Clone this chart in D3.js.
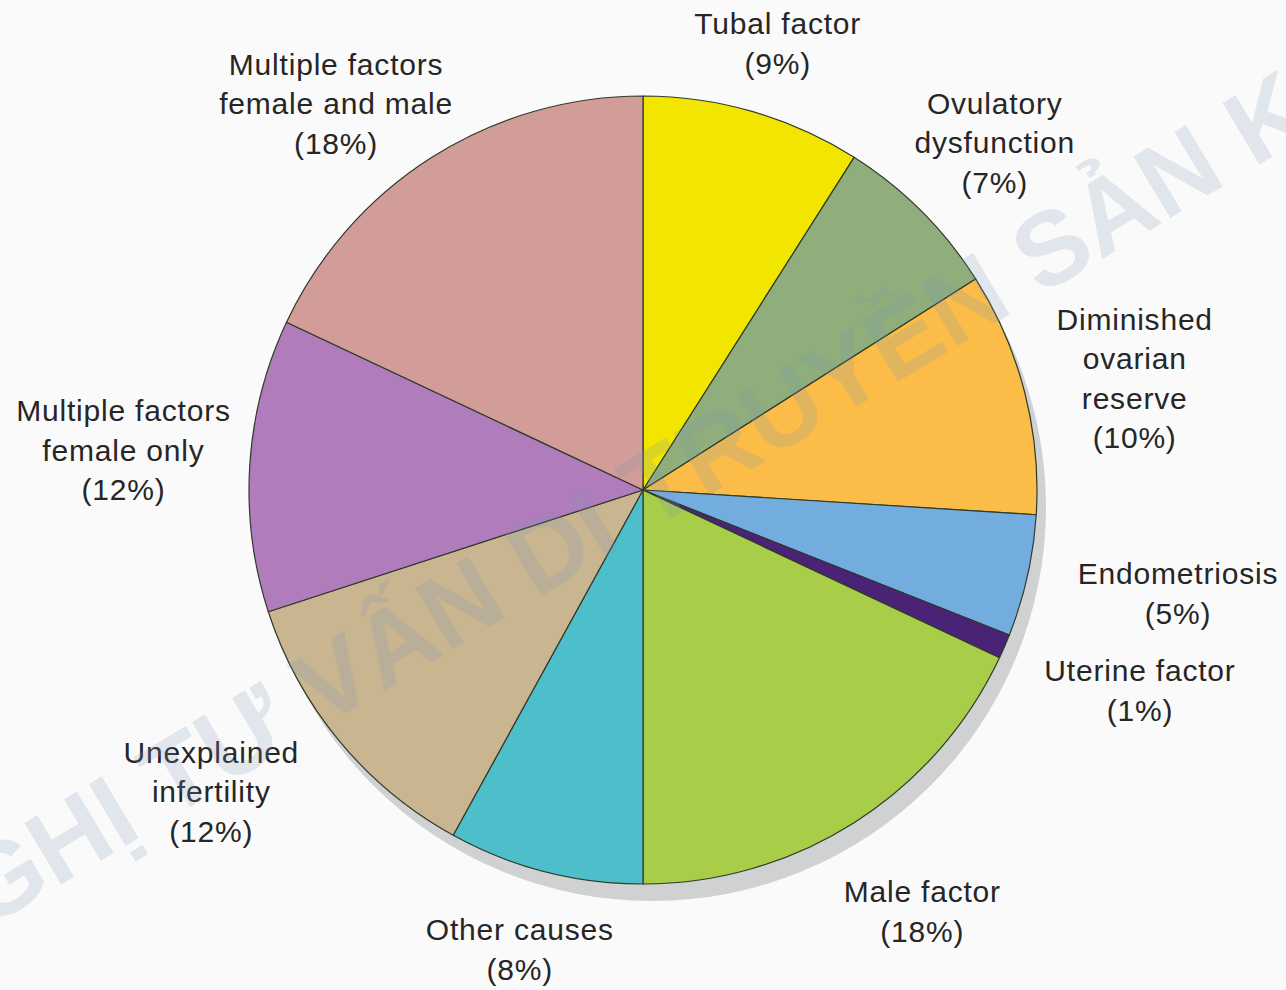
<!DOCTYPE html>
<html>
<head>
<meta charset="utf-8">
<script src="https://cdn.jsdelivr.net/npm/d3@7"></script>
<style>
  body { margin: 0; background: #fafafa; }
  svg { display: block; }
</style>
</head>
<body>
<svg id="chart" width="1286" height="990"></svg>
<script>
// causes of infertility, clockwise from 12 o'clock
var causes = [
  ["Tubal factor"],
  ["Ovulatory", "dysfunction"],
  ["Diminished", "ovarian", "reserve"],
  ["Endometriosis"],
  ["Uterine factor"],
  ["Male factor"],
  ["Other causes"],
  ["Unexplained", "infertility"],
  ["Multiple factors", "female only"],
  ["Multiple factors", "female and male"]
];
var percents = [9, 7, 10, 5, 1, 18, 8, 12, 12, 18];
var colors = ["#f2e500", "#8fae7b", "#fbbd48", "#73ade0", "#4a2376",
              "#a7cd49", "#4cbfcb", "#c9b58f", "#b07cbc", "#d29c98"];

// label placement: [angle nudge in degrees, distance from centre]
var labelLayout = [
  [0.6, 466], [0.4, 494], [1.7, 504], [-1.6, 545], [-1.4, 536],
  [-1.1, 506], [0.6, 476], [4.6, 527], [0.7, 521], [-6.1, 493]
];

var width = 1286, height = 990;
var cx = 643, cy = 490, radius = 394;
var lineGap = 39.5;

var svg = d3.select("#chart");

// drop shadow behind the pie
svg.append("circle")
  .attr("cx", cx + 9)
  .attr("cy", cy + 17)
  .attr("r", radius)
  .style("fill", "#cfd1d3");

var pie = d3.pie().sort(null).value(function(d){ return d; });
var arc = d3.arc().innerRadius(0).outerRadius(radius);
var slices = pie(percents);

var g = svg.append("g").attr("transform", "translate(" + cx + "," + cy + ")");

g.selectAll("path")
  .data(slices)
  .enter().append("path")
  .attr("d", arc)
  .style("fill", function(d, i){ return colors[i]; })
  .style("stroke", "#2f3a2a")
  .style("stroke-width", 1.2)
  .style("stroke-linejoin", "round");

// labels
var labels = g.selectAll("text.label")
  .data(slices)
  .enter().append("text")
  .attr("class", "label")
  .attr("text-anchor", "middle")
  .style("font-family", "'Liberation Sans', Arial, sans-serif")
  .style("font-size", "30px")
  .style("letter-spacing", "0.8px")
  .style("fill", "#262626");

labels.each(function(d, i){
  var mid = (d.startAngle + d.endAngle) / 2 + labelLayout[i][0] * Math.PI / 180;
  var p = d3.pointRadial(mid, labelLayout[i][1]);
  var lines = causes[i].concat(["(" + percents[i] + "%)"]);
  var top = p[1] - (lines.length - 1) * lineGap / 2 + 10;
  d3.select(this).selectAll("tspan")
    .data(lines)
    .enter().append("tspan")
    .attr("x", p[0])
    .attr("y", function(t, j){ return top + j * lineGap; })
    .text(function(t){ return t; });
});

// faint watermark across the picture (runs off both edges like the original)
svg.append("text")
  .attr("transform", "translate(700,458) rotate(-31)")
  .attr("text-anchor", "middle")
  .attr("dy", "0.35em")
  .style("font-family", "'Liberation Sans', Arial, sans-serif")
  .style("font-size", "104px")
  .style("font-weight", "bold")
  .style("fill", "#7f97b8")
  .style("opacity", 0.2)
  .text("NGHỊ TƯ VẤN DI TRUYỀN SẢN KHOA");
</script>
</body>
</html>
